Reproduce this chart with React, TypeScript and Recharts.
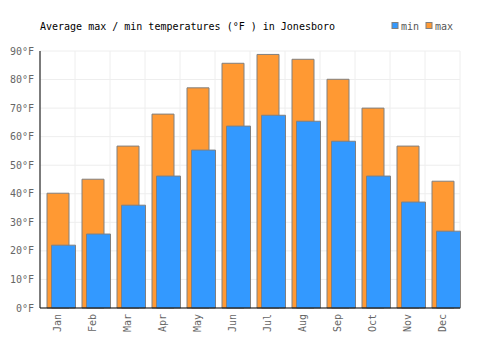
import React from 'react';
import { BarChart, Bar, XAxis, YAxis, CartesianGrid } from 'recharts';

const months = ['Jan', 'Feb', 'Mar', 'Apr', 'May', 'Jun', 'Jul', 'Aug', 'Sep', 'Oct', 'Nov', 'Dec'];
const maxTemps = [40.2, 45.1, 56.7, 67.9, 77.1, 85.7, 88.8, 87.1, 80.1, 70.0, 56.7, 44.4];
const minTemps = [22.0, 25.9, 36.0, 46.2, 55.3, 63.7, 67.5, 65.4, 58.4, 46.2, 37.1, 26.9];
const yTicks = [0, 10, 20, 30, 40, 50, 60, 70, 80, 90];

const data = months.map((m, i) => ({ month: m, max: maxTemps[i], min: minTemps[i] }));

const FONT = '"DejaVu Sans Mono", "Liberation Mono", monospace';
const BLUE = '#3399ff';
const ORANGE = '#ff9933';
const STROKE = '#808080';

const XTick = (props: any) => {
  const { x, y, payload } = props;
  const ty = y + 6;
  return (
    <text
      x={x}
      y={ty}
      transform={`rotate(-90, ${x}, ${ty})`}
      textAnchor="end"
      dy="0.35em"
      fontSize={10}
      fontFamily={FONT}
      fill="#666"
    >
      {payload.value}
    </text>
  );
};

const YTick = (props: any) => {
  const { y, payload } = props;
  return (
    <text x={34} y={y} textAnchor="end" dy="0.35em" fontSize={10} fontFamily={FONT} fill="#666">
      {`${payload.value}°F`}
    </text>
  );
};

export default function App() {
  return (
    <div style={{ position: 'absolute', left: 0, top: 0, width: 500, height: 350, background: '#fff' }}>
      <BarChart
        width={500}
        height={350}
        data={data}
        margin={{ top: 51, right: 40, bottom: 0, left: 0 }}
        barCategoryGap={0}
      >
        <CartesianGrid
          stroke="#eeeeee"
          strokeWidth={1}
          verticalCoordinatesGenerator={({ offset }: any) =>
            months.map((_, i) => offset.left + (i * offset.width) / months.length).concat([offset.left + offset.width])
          }
        />
        <XAxis
          xAxisId="a"
          dataKey="month"
          height={42}
          axisLine={{ stroke: '#000' }}
          tickLine={false}
          tickSize={0}
          tickMargin={0}
          tick={<XTick />}
          interval={0}
        />
        <XAxis
          xAxisId="b"
          dataKey="month"
          hide
          padding={{ left: 5.5, right: -5.5 }}
        />
        <YAxis
          width={40}
          domain={[0, 90]}
          ticks={yTicks}
          axisLine={{ stroke: '#000' }}
          tickLine={false}
          tick={<YTick />}
          interval={0}
        />
        <Bar xAxisId="a" dataKey="max" fill={ORANGE} stroke={STROKE} strokeWidth={1} barSize={22} isAnimationActive={false} />
        <Bar xAxisId="b" dataKey="min" fill={BLUE} stroke={STROKE} strokeWidth={1} barSize={24} isAnimationActive={false} />
      </BarChart>
      <svg width={500} height={50} style={{ position: 'absolute', left: 0, top: 0 }}>
        <text x={40} y={29.5} fontSize={10} fontFamily={FONT} fill="#000">
          Average max / min temperatures (°F ) in Jonesboro
        </text>
        <rect x={392} y={22.5} width={6} height={6} fill={BLUE} stroke={STROKE} />
        <text x={401} y={29.5} fontSize={10} fontFamily={FONT} fill="#555">min</text>
        <rect x={426} y={22.5} width={6} height={6} fill={ORANGE} stroke={STROKE} />
        <text x={435} y={29.5} fontSize={10} fontFamily={FONT} fill="#555">max</text>
      </svg>
    </div>
  );
}
